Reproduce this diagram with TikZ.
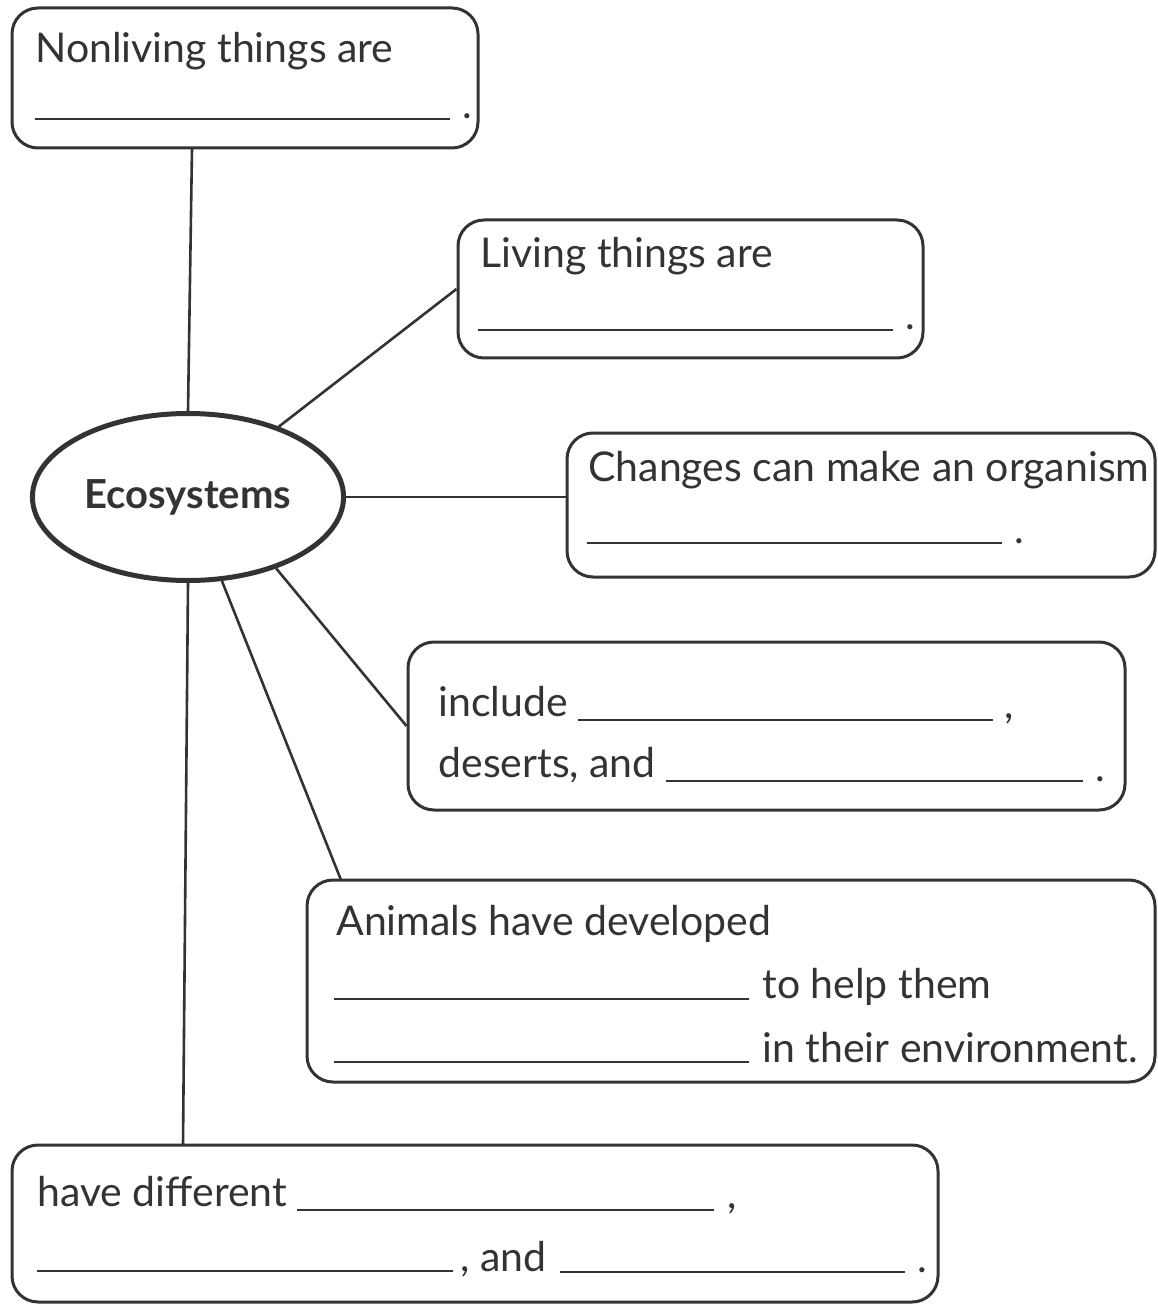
\documentclass[tikz,border=0pt]{standalone}
\usepackage{fontspec}
\setmainfont{Lato}
\usetikzlibrary{shapes.geometric}
\definecolor{ink}{HTML}{333333}
\newdimen\pxu
\pxu=0.5pt
\tikzset{
  box/.style={draw=ink, line width=1.5pt, rounded corners=13pt, inner sep=0pt},
  txt/.style={anchor=base west, inner sep=0pt, text=ink, font=\fontsize{20.5}{24}\selectfont},
  blank/.style={draw=ink, line width=1.2pt},
  link/.style={draw=ink, line width=1.3pt}
}
\begin{document}
\begin{tikzpicture}[x=0.5pt, y=-0.5pt]
  \useasboundingbox (0,0) rectangle (1157,1304);

  % centre
  \node (eco) at (188,497) [ellipse, draw=ink, line width=2.5pt, minimum width=307\pxu, minimum height=167\pxu,
    text=ink, font=\fontsize{20}{24}\selectfont\bfseries] {Ecosystems};

  % boxes
  \node (nonliving) at (245,78) [box, minimum width=466\pxu, minimum height=140\pxu] {};
  \node (living) at (690.5,289) [box, minimum width=465\pxu, minimum height=138\pxu] {};
  \node (changes) at (861,505) [box, minimum width=588\pxu, minimum height=144\pxu] {};
  \node (biomes) at (766.5,726) [box, minimum width=717\pxu, minimum height=168\pxu] {};
  \node (animals) at (731,981) [box, minimum width=848\pxu, minimum height=202\pxu] {};
  \node (diff) at (475,1223.5) [box, minimum width=926\pxu, minimum height=157\pxu] {};

  % texts and blanks
  \node (t1) at (35,63) [txt] {Nonliving things are};
  \draw[blank] (35,119) -- (450,119);
  \node (d1) at (462,119) [txt] {.};

  \node (t2) at (480,268) [txt] {Living things are};
  \draw[blank] (478,330) -- (893,330);
  \node (d2) at (905,330) [txt] {.};

  \node (t3) at (588,481) [txt] {Changes can make an organism};
  \draw[blank] (587,543) -- (1002,543);
  \node (d3) at (1014,543) [txt] {.};

  \node (t4) at (438,716) [txt] {include};
  \draw[blank] (578,720) -- (993,720);
  \node (c4) at (1004,718) [txt] {,};
  \node (t5) at (438,777) [txt] {deserts, and};
  \draw[blank] (666,781) -- (1083,781);
  \node (d5) at (1095,781) [txt] {.};

  \node (t6) at (336,935) [txt] {Animals have developed};
  \draw[blank] (334,999) -- (749,999);
  \node (t7) at (762,998) [txt] {to help them};
  \draw[blank] (334,1062) -- (749,1062);
  \node (t8) at (762,1062) [txt] {in their environment.};

  \node (t9) at (37,1206) [txt] {have different};
  \draw[blank] (297,1210) -- (714,1210);
  \node (c9) at (727,1208) [txt] {,};
  \draw[blank] (37,1271) -- (453,1271);
  \node (t10) at (460,1271) [txt] {, and};
  \draw[blank] (560,1272) -- (905,1272);
  \node (d10) at (917,1272) [txt] {.};

  % connectors
  \coordinate (nonfoot) at (192,148);
  \coordinate (anitop) at (341,880);
  \coordinate (difftop) at (183,1145);
  \draw[link] (nonfoot) -- (eco.north);
  \draw[link] (eco) -- (living.west);
  \draw[link] (eco.east) -- (eco.east -| changes.west);
  \draw[link] (eco.-39) -- (biomes.west);
  \draw[link] (eco.-68) -- (anitop);
  \draw[link] (eco.south) -- (difftop);
\end{tikzpicture}
\end{document}
